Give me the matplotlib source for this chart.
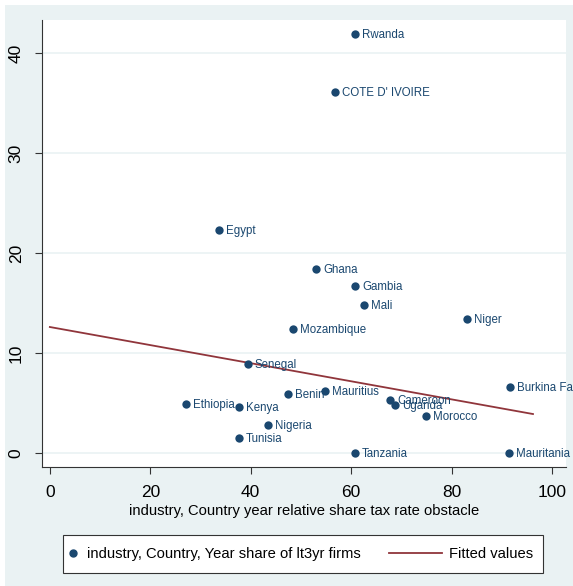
import matplotlib
matplotlib.use('Agg')
import matplotlib.pyplot as plt
from matplotlib.lines import Line2D
from matplotlib.patches import Rectangle
from matplotlib.legend_handler import HandlerLine2D

plt.rcParams['font.family'] = ['Liberation Sans', 'DejaVu Sans']

countries = ['Rwanda', "COTE D' IVOIRE", 'Egypt', 'Ghana', 'Gambia', 'Mali', 'Niger',
             'Mozambique', 'Senegal', 'Burkina Faso', 'Benin', 'Mauritius', 'Ethiopia',
             'Kenya', 'Cameroon', 'Uganda', 'Morocco', 'Nigeria', 'Tunisia', 'Tanzania',
             'Mauritania']
tax_obstacle = [60.8, 56.7, 33.6, 53.0, 60.8, 62.5, 83.1, 48.5, 39.4, 91.6, 47.4, 54.7,
                27.2, 37.6, 67.8, 68.7, 74.9, 43.5, 37.7, 60.8, 91.5]
young_share = [41.9, 36.1, 22.3, 18.4, 16.7, 14.8, 13.4, 12.4, 8.9, 6.6, 5.9, 6.2,
               4.9, 4.6, 5.3, 4.8, 3.7, 2.8, 1.5, 0.0, 0.0]

# fitted values at both ends
fit_x = [0, 96.2]
fit_y = [12.6, 3.9]

xticks = [0, 20, 40, 60, 80, 100]
yticks = [0, 10, 20, 30, 40]

navy = '#1a476f'
maroon = '#90353b'
bg = '#eaf2f3'


class LongLine(HandlerLine2D):
    # legend line that reaches further left than the marker handle
    def create_artists(self, legend, orig_handle, xdescent, ydescent, width, height, fontsize, trans):
        y = height / 2 - ydescent
        line = Line2D([-xdescent - 2.6 * width, width - xdescent], [y, y])
        self.update_prop(line, orig_handle, legend)
        line.set_transform(trans)
        return [line]


fig = plt.figure(figsize=(5.73, 5.86), dpi=100, facecolor='white')
# graph region (thin white strip left and top, as in the screenshot)
fig.add_artist(Rectangle((5 / 573, 0), 1, 1 - 5 / 586, transform=fig.transFigure,
                         facecolor=bg, edgecolor='none', zorder=0))
ax = fig.add_axes([0.073, 0.203, 0.915, 0.763])
ax.set_facecolor('white')

ax.plot(fit_x, fit_y, color=maroon, lw=1.3, zorder=2)
ax.scatter(tax_obstacle, young_share, s=36, color=navy, zorder=3, linewidths=0)
for name, x, y in zip(countries, tax_obstacle, young_share):
    ax.annotate(name, (x, y), xytext=(5, -0.5), textcoords='offset points',
                va='center', ha='left', fontsize=8.3, color=navy,
                annotation_clip=False, zorder=4)

ax.set_xlim(-1.6, 102.8)
ax.set_ylim(-1.4, 43.3)
ax.set_xticks(xticks)
ax.set_yticks(yticks)
ax.tick_params(axis='x', labelsize=12.5, length=5, color='#333333', pad=8)
ax.tick_params(axis='y', labelsize=12.5, length=5, color='#333333', labelrotation=90, pad=8)
for lab in ax.get_yticklabels():
    lab.set_va('center')
ax.yaxis.grid(True, color=bg, lw=1.2)
ax.set_axisbelow(True)
for side in ['top', 'right']:
    ax.spines[side].set_visible(False)
for side in ['left', 'bottom']:
    ax.spines[side].set_color('#333333')
ax.set_xlabel('industry, Country year relative share tax rate obstacle', fontsize=10.6, labelpad=3)

# legend box
fig.add_artist(Rectangle((63 / 573, 1 - 573 / 586), 480 / 573, 38 / 586,
                         transform=fig.transFigure, facecolor='white',
                         edgecolor='#333333', lw=0.8, zorder=1))
dot = Line2D([], [], ls='none', marker='o', ms=5, color=navy)
fitline = Line2D([], [], color=maroon, lw=1.3)
leg = fig.legend([dot, fitline], ['industry, Country, Year share of lt3yr firms', 'Fitted values'],
                 loc='center left', bbox_to_anchor=(66 / 573, 1 - 554 / 586), ncol=2,
                 fontsize=10.6, frameon=False, borderpad=0, borderaxespad=0,
                 columnspacing=4.5, handlelength=1.0, handletextpad=0.45,
                 handler_map={fitline: LongLine()})
leg.set_zorder(2)

fig.savefig('out.png', dpi=100, facecolor='white')
